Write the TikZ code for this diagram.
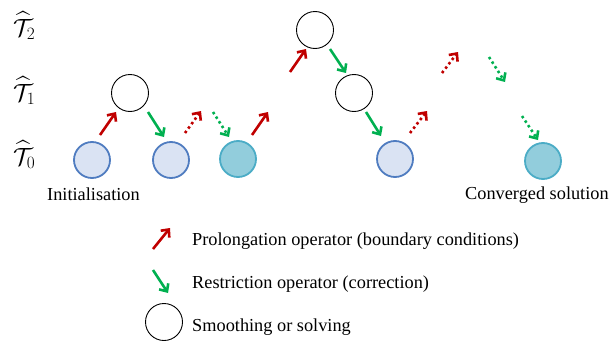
\documentclass[tikz,border=0pt]{standalone}
\usepackage{amsmath}
\usepackage{fontspec}
\setmainfont{Liberation Serif}
\usetikzlibrary{arrows.meta}
\definecolor{pred}{HTML}{C00000}
\definecolor{rgreen}{HTML}{00B050}
\definecolor{bfill}{HTML}{DAE3F3}
\definecolor{bdraw}{HTML}{4F7CC0}
\definecolor{tfill}{HTML}{92CDDC}
\definecolor{tdraw}{HTML}{4BACC6}
\tikzset{
  solve/.style={circle,draw=black,line width=0.9pt,minimum size=37pt,inner sep=0pt},
  blue0/.style={circle,draw=bdraw,fill=bfill,line width=1.8pt,minimum size=36pt,inner sep=0pt},
  teal0/.style={circle,draw=tdraw,fill=tfill,line width=1.8pt,minimum size=36pt,inner sep=0pt},
  prol/.style={draw=pred,line width=2.6pt,-{Straight Barb[length=6pt,width=11pt,line width=2.6pt]}},
  restr/.style={draw=rgreen,line width=2.6pt,-{Straight Barb[length=6pt,width=11pt,line width=2.6pt]}},
  dots/.style={dash pattern=on 2.5pt off 3pt},
  lvl/.style={anchor=west,inner sep=0pt,font=\fontsize{24}{28}\selectfont},
  txt/.style={anchor=base west,inner sep=0pt,font=\fontsize{18.3}{21}\selectfont},
}
\begin{document}
\begin{tikzpicture}[x=1pt,y=-1pt]
\useasboundingbox (0,0) rectangle (615,340);
% level labels
\node[lvl] (l2) at (13,26) {$\widehat{\mathcal{T}}_2$};
\node[lvl] (l1) at (13,91) {$\widehat{\mathcal{T}}_1$};
\node[lvl] (l0) at (13,155) {$\widehat{\mathcal{T}}_0$};
% circles
\node[blue0] (a0) at (92,160) {};
\node[solve] (a1) at (130,93) {};
\node[blue0] (b0) at (171,160) {};
\node[teal0] (c0) at (238,159) {};
\node[solve] (d2) at (315,30) {};
\node[solve] (d1) at (354,93) {};
\node[blue0] (e0) at (395,159) {};
\node[teal0] (f0) at (543,161) {};
% arrow end points
\coordinate (p1a) at (100,135); \coordinate (p1b) at (116,112);
\coordinate (r1a) at (148,112); \coordinate (r1b) at (164,137);
\coordinate (p2a) at (185,133); \coordinate (p2b) at (201,111);
\coordinate (r2a) at (213,112); \coordinate (r2b) at (229,137);
\coordinate (p3a) at (252,135); \coordinate (p3b) at (268,112);
\coordinate (p4a) at (290,72);  \coordinate (p4b) at (306,49);
\coordinate (r3a) at (330,49);  \coordinate (r3b) at (346,73);
\coordinate (r4a) at (366,112); \coordinate (r4b) at (381,136);
\coordinate (p5a) at (410,133); \coordinate (p5b) at (427,111);
\coordinate (p6a) at (442,73);  \coordinate (p6b) at (458,52);
\coordinate (r5a) at (489,57);  \coordinate (r5b) at (505,82);
\coordinate (r6a) at (522,116); \coordinate (r6b) at (538,140);
\draw[prol] (p1a) -- (p1b);
\draw[restr] (r1a) -- (r1b);
\draw[prol,dots] (p2a) -- (p2b);
\draw[restr,dots] (r2a) -- (r2b);
\draw[prol] (p3a) -- (p3b);
\draw[prol] (p4a) -- (p4b);
\draw[restr] (r3a) -- (r3b);
\draw[restr] (r4a) -- (r4b);
\draw[prol,dots] (p5a) -- (p5b);
\draw[prol,dots] (p6a) -- (p6b);
\draw[restr,dots] (r5a) -- (r5b);
\draw[restr,dots] (r6a) -- (r6b);
% captions
\node[txt] (init) at (47,200) {Initialisation};
\node[txt] (conv) at (465,199) {Converged solution};
% legend
\coordinate (lpa) at (153,249); \coordinate (lpb) at (170,228);
\coordinate (lra) at (153,270); \coordinate (lrb) at (168,293);
\draw[prol] (lpa) -- (lpb);
\draw[restr] (lra) -- (lrb);
\node[solve] (ls) at (164,322) {};
\node[txt] (t1) at (192,245) {Prolongation operator (boundary conditions)};
\node[txt] (t2) at (192,288) {Restriction operator (correction)};
\node[txt] (t3) at (192,331) {Smoothing or solving};
\end{tikzpicture}
\end{document}
